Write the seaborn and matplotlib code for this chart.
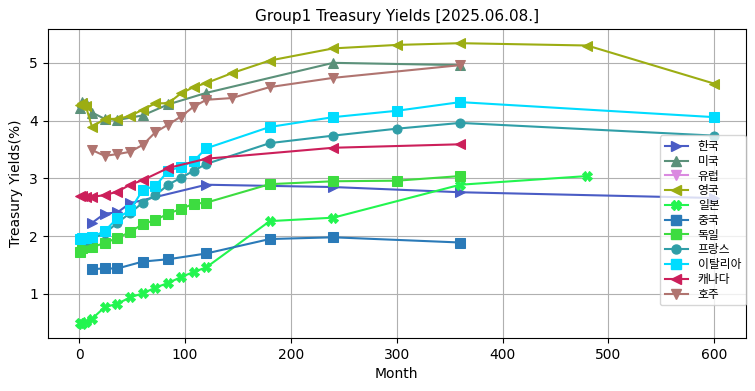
# Group1 treasury yield curves
import numpy as np
import matplotlib
matplotlib.use("Agg")
import matplotlib.pyplot as plt
from matplotlib.lines import Line2D
import seaborn as sns

plt.rcParams['font.family'] = ['DejaVu Sans', 'Noto Sans CJK KR']

# maturities (months) and yields (%) per country
kr_m = [12, 24, 36, 48, 120, 240, 360, 600]
kr_y = [2.23, 2.39, 2.41, 2.57, 2.89, 2.85, 2.76, 2.66]

us_m = [1, 3, 6, 12, 24, 36, 60, 84, 120, 240, 360]
us_y = [4.22, 4.33, 4.30, 4.14, 4.03, 4.01, 4.09, 4.28, 4.48, 5.00, 4.96]

eu_m = []
eu_y = []

uk_m = [1, 3, 6, 12, 24, 36, 48, 60, 72, 84, 96, 108, 120, 144, 180, 240, 300, 360, 480, 600]
uk_y = [4.27, 4.30, 4.26, 3.89, 4.03, 4.03, 4.08, 4.19, 4.30, 4.30, 4.47, 4.58, 4.65, 4.82, 5.04, 5.25, 5.31, 5.34, 5.30, 4.64]

jp_m = [1, 3, 6, 12, 24, 36, 48, 60, 72, 84, 96, 108, 120, 180, 240, 360, 480]
jp_y = [0.50, 0.48, 0.52, 0.57, 0.77, 0.83, 0.94, 1.01, 1.11, 1.19, 1.29, 1.38, 1.46, 2.26, 2.32, 2.89, 3.04]

cn_m = [12, 24, 36, 60, 84, 120, 180, 240, 360]
cn_y = [1.43, 1.44, 1.44, 1.56, 1.60, 1.70, 1.95, 1.98, 1.89]

de_m = [1, 3, 6, 12, 24, 36, 48, 60, 72, 84, 96, 108, 120, 180, 240, 300, 360]
de_y = [1.73, 1.80, 1.82, 1.81, 1.88, 1.97, 2.07, 2.21, 2.28, 2.39, 2.47, 2.56, 2.58, 2.90, 2.95, 2.96, 3.04]

fr_m = [3, 6, 12, 24, 36, 48, 60, 72, 84, 96, 108, 120, 180, 240, 300, 360, 600]
fr_y = [1.95, 1.94, 1.96, 2.05, 2.23, 2.40, 2.58, 2.71, 2.89, 3.01, 3.13, 3.25, 3.61, 3.74, 3.86, 3.96, 3.74]

it_m = [1, 3, 6, 12, 24, 36, 48, 60, 72, 84, 96, 108, 120, 180, 240, 300, 360, 600]
it_y = [1.95, 1.97, 1.96, 1.98, 2.09, 2.31, 2.45, 2.80, 2.87, 3.13, 3.20, 3.30, 3.52, 3.89, 4.06, 4.17, 4.32, 4.06]

ca_m = [1, 3, 6, 12, 24, 36, 48, 60, 84, 120, 240, 360]
ca_y = [2.70, 2.69, 2.68, 2.68, 2.71, 2.77, 2.89, 2.97, 3.18, 3.34, 3.53, 3.59]

au_m = [12, 24, 36, 48, 60, 72, 84, 96, 108, 120, 144, 180, 240, 360]
au_y = [3.49, 3.39, 3.42, 3.46, 3.58, 3.80, 3.93, 4.07, 4.24, 4.36, 4.39, 4.58, 4.74, 4.96]

series = [
    ("한국", kr_m, kr_y, ">", "#4a5cc5"),
    ("미국", us_m, us_y, "^", "#5b917a"),
    ("유럽", eu_m, eu_y, "v", "#da8ae0"),
    ("영국", uk_m, uk_y, "<", "#9cad13"),
    ("일본", jp_m, jp_y, "X", "#22f54f"),
    ("중국", cn_m, cn_y, "s", "#2a7ab8"),
    ("독일", de_m, de_y, "s", "#3ddc40"),
    ("프랑스", fr_m, fr_y, "o", "#2f9ea7"),
    ("이탈리아", it_m, it_y, "s", "#00dcff"),
    ("캐나다", ca_m, ca_y, "<", "#cc1f5a"),
    ("호주", au_m, au_y, "v", "#b07470"),
]

fig, ax = plt.subplots(figsize=(7.55, 3.91), dpi=100)

handles = []
for name, m, y, mk, col in series:
    if len(m) > 0:
        sns.lineplot(x=m, y=y, marker=mk, color=col, ax=ax, legend=False,
                     markersize=6.5, markeredgecolor=col, linewidth=1.5)
    # legend entry (Europe has no data but is still listed)
    handles.append(Line2D([], [], marker=mk, color=col, label=name, markersize=6.5,
                          markeredgecolor=col, linewidth=1.5))

ax.set_xlim(-30, 630)
ax.set_ylim(0.24, 5.58)
ax.grid(True, color="#b0b0b0", linewidth=0.8)
ax.set_title("Group1 Treasury Yields [2025.06.08.]", fontsize=11)
ax.set_xlabel("Month")
ax.set_ylabel("Treasury Yields(%)")
ax.legend(handles=handles, loc="lower right", bbox_to_anchor=(1.0, 0.105), borderaxespad=0,
          fontsize=8.5, labelspacing=0.15, handlelength=2.0)

fig.subplots_adjust(left=0.063, right=0.988, top=0.925, bottom=0.136)
plt.savefig("out.png", dpi=100)
